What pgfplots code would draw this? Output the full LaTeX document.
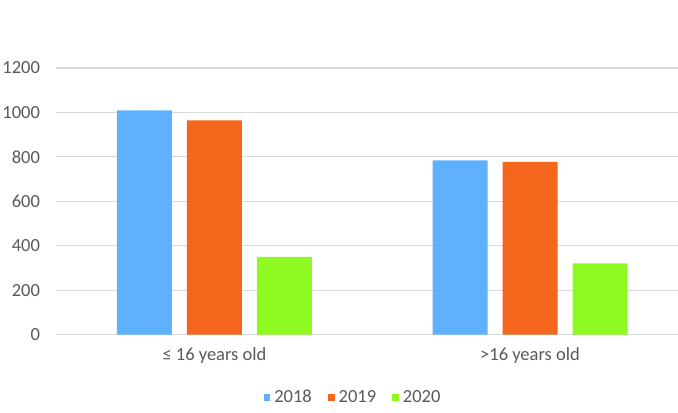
\documentclass[border=0pt]{standalone}
\usepackage{pgfplots}
\pgfplotsset{compat=1.18}
\usepackage{fontspec}
\setmainfont{Carlito}
\definecolor{c2018}{HTML}{5FB1FD}
\definecolor{c2019}{HTML}{F4661B}
\definecolor{c2020}{HTML}{8EFA21}
\definecolor{txt}{HTML}{595959}
\definecolor{grd}{HTML}{D9D9D9}
\begin{document}
\begin{tikzpicture}
\useasboundingbox (-28pt,-39pt) rectangle (311pt,167.3pt);
\begin{axis}[
    at={(0,0)}, anchor=south west,
    width=311pt, height=133.3pt,
    scale only axis,
    ybar=7.5pt,
    bar width=27.5pt,
    xmin=-0.502, xmax=1.469,
    ymin=0, ymax=1200,
    ytick={0,200,...,1200},
    xtick={0,1},
    xticklabels={≤ 16 years old, >16 years old},
    ymajorgrids,
    grid style={grd, line width=0.6pt},
    axis line style={draw=none},
    major tick length=0pt,
    tick label style={font=\fontsize{9.25}{11}\selectfont, text=txt},
    /pgf/number format/assume math mode=true,
    /pgf/number format/1000 sep={},
    yticklabel style={xshift=-4.5pt},
    xticklabel style={yshift=-3pt},
    legend columns=3,
    legend style={draw=none, fill=none, at={(149pt,-31.5pt)}, anchor=center,
        font=\fontsize{9.25}{11}\selectfont, text=txt,
        /tikz/every even column/.append style={column sep=6pt}},
    legend image code/.code={\fill[#1] (0pt,-1.7pt) rectangle (3.4pt,1.7pt);},
    every axis plot/.append style={draw=none},
]
\addplot[fill=c2018] coordinates {(0,1009) (1,784)};
\addlegendentry{2018}
\addplot[fill=c2019] coordinates {(0,964) (1,778)};
\addlegendentry{2019}
\addplot[fill=c2020] coordinates {(0,350) (1,321)};
\addlegendentry{2020}
\end{axis}
\end{tikzpicture}
\end{document}
